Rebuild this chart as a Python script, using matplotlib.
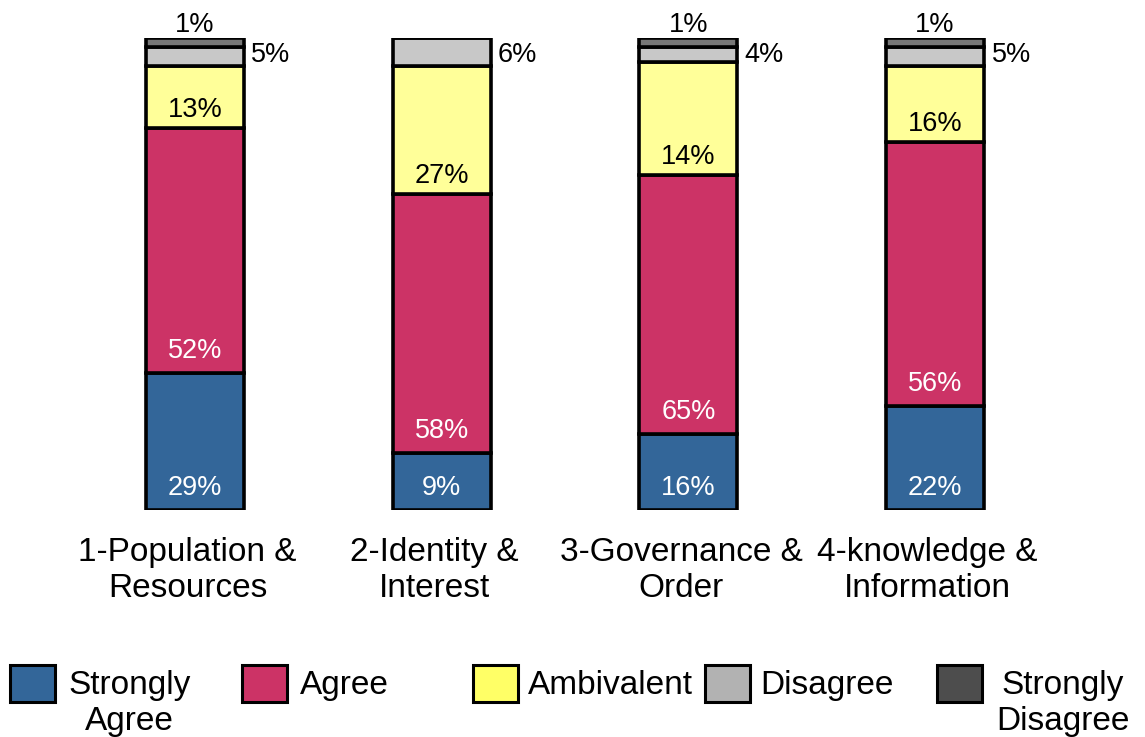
import matplotlib
matplotlib.use("Agg")
import matplotlib.pyplot as plt
from matplotlib.patches import Rectangle

plt.rcParams['font.family'] = ['Liberation Sans', 'DejaVu Sans']

categories = ["1-Population &\nResources", "2-Identity &\nInterest",
              "3-Governance &\nOrder", "4-knowledge &\nInformation"]
series = ["Strongly\nAgree", "Agree", "Ambivalent", "Disagree", "Strongly\nDisagree"]

# heights as drawn in the picture
strongly_agree = [29, 12, 16, 22]
agree = [52, 55, 55, 56]
ambivalent = [13, 27, 24, 16]
disagree = [4, 6, 3, 4]
strongly_disagree = [2, 0, 2, 2]

# labels printed on the bars
sa_labels = ["29%", "9%", "16%", "22%"]
a_labels = ["52%", "58%", "65%", "56%"]
amb_labels = ["13%", "27%", "14%", "16%"]
dis_labels = ["5%", "6%", "4%", "5%"]
sd_labels = ["1%", "", "1%", "1%"]

bar_colors = ["#336699", "#CC3366", "#FFFF99", "#C8C8C8", "#777777"]
legend_colors = ["#336699", "#CC3366", "#FFFF66", "#B2B2B2", "#4D4D4D"]

W, H = 1145, 737
fig = plt.figure(figsize=(W / 100, H / 100), dpi=100)
ax = fig.add_axes([0, (H - 510) / H, 1, (510 - 38) / H])

step = 246.7
x = list(range(len(categories)))
width = 98 / step

values = [strongly_agree, agree, ambivalent, disagree, strongly_disagree]
bottoms = [0] * len(categories)
seg_bottoms = []
for vals, col in zip(values, bar_colors):
    seg_bottoms.append(list(bottoms))
    ax.bar(x, vals, width, bottom=bottoms, color=col, edgecolor="black",
           linewidth=2.6, zorder=2)
    bottoms = [b + v for b, v in zip(bottoms, vals)]

fs = 19.5
for i in x:
    ax.text(i, seg_bottoms[0][i] + 4.7, sa_labels[i], ha="center", va="center",
            color="white", fontsize=fs)
    ax.text(i, seg_bottoms[1][i] + 4.7, a_labels[i], ha="center", va="center",
            color="white", fontsize=fs)
    ax.text(i, seg_bottoms[2][i] + 3.8, amb_labels[i], ha="center", va="center",
            color="black", fontsize=fs)
    ax.text(i + width / 2 + 0.03, 96.5, dis_labels[i], ha="left", va="center",
            color="black", fontsize=fs)
    if sd_labels[i]:
        ax.text(i, 101.2, sd_labels[i], ha="center", va="baseline",
                color="black", fontsize=fs)
    ax.text(i - 0.03, -5.7, categories[i], ha="center", va="top", fontsize=24,
            linespacing=1.2)

ax.set_xlim(-195 / step, (W - 195) / step)
ax.set_ylim(0, 100)
ax.axis("off")

# legend drawn by hand
patch_x = [10, 242, 473, 705, 937]
text_x = [68, 300, 528, 760, 996]
for px, tx, lab, col in zip(patch_x, text_x, series, legend_colors):
    fig.add_artist(Rectangle((px / W, 1 - 702 / H), 45 / W, 37 / H,
                             transform=fig.transFigure, facecolor=col,
                             edgecolor="black", linewidth=2.2))
    fig.text(tx / W, 1 - 670 / H, lab, ha="left", va="top", fontsize=24,
             multialignment="center", linespacing=1.2)

fig.savefig("out.png", dpi=100)
